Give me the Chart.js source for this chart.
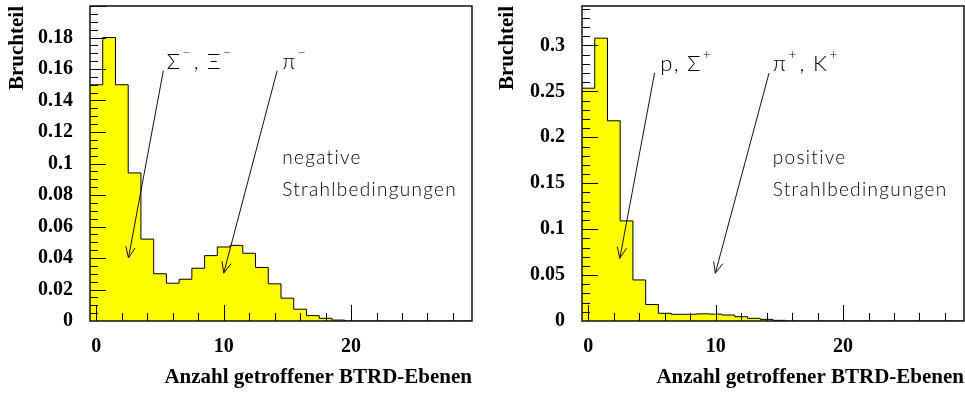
<!DOCTYPE html>
<html>
<head>
<meta charset="utf-8">
<script src="https://cdn.jsdelivr.net/npm/chart.js@4.4.0/dist/chart.umd.min.js"></script>
<style>
  html, body { margin: 0; padding: 0; background: #fff; }
  #wrap { display: flex; width: 965px; height: 394px; }
  #left { position: relative; width: 490px; height: 394px; }
  #right { position: relative; width: 475px; height: 394px; }
</style>
</head>
<body>
<div id="wrap">
  <div id="left"><canvas id="negChart"></canvas></div>
  <div id="right"><canvas id="posChart"></canvas></div>
</div>
<script>
// fraction per number of hit BTRD layers, bins 0..29
const negValues = [0.150, 0.180, 0.150, 0.094, 0.052, 0.030, 0.024, 0.0265, 0.0335, 0.0415,
                   0.047, 0.048, 0.043, 0.034, 0.0236, 0.0145, 0.0075, 0.0034, 0.0017, 0.0006,
                   0, 0, 0, 0, 0, 0, 0, 0, 0, 0];
const posValues = [0.2535, 0.308, 0.218, 0.109, 0.0447, 0.018, 0.0084, 0.0073, 0.0073, 0.0078,
                   0.0075, 0.0065, 0.0047, 0.0029, 0.0018, 0.0007, 0, 0, 0, 0,
                   0, 0, 0, 0, 0, 0, 0, 0, 0, 0];
const xTicks = [0, 10, 20];
const negYTicks = [0, 0.02, 0.04, 0.06, 0.08, 0.1, 0.12, 0.14, 0.16, 0.18];
const posYTicks = [0, 0.05, 0.1, 0.15, 0.2, 0.25, 0.3];

const serif = "'Liberation Serif', 'Times New Roman', serif";

function histPoints(values) {
  const pts = values.map((v, i) => ({ x: i - 0.5, y: v }));
  pts.push({ x: values.length - 0.5, y: values[values.length - 1] });
  return pts;
}

// frame, inward tick marks, arrows and labels
const histDecor = {
  id: 'histDecor',
  afterDatasetsDraw(chart, args, opts) {
    const { ctx, chartArea: a, scales: { x, y } } = chart;
    ctx.save();
    ctx.strokeStyle = '#000';
    ctx.lineWidth = 1;
    ctx.beginPath();
    for (let i = 0; ; i++) {
      const v = i * opts.xMinor;
      if (v > x.max) break;
      const px = Math.round(x.getPixelForValue(v)) + 0.5;
      const len = v % opts.xMajor === 0 ? 16 : 8;
      ctx.moveTo(px, a.bottom);
      ctx.lineTo(px, a.bottom - len);
    }
    for (let i = 1; ; i++) {
      const v = i * opts.yMinor;
      if (v > y.max) break;
      const py = Math.round(y.getPixelForValue(v)) + 0.5;
      const r = v / opts.yMajor;
      const len = Math.abs(r - Math.round(r)) < 1e-6 ? 16 : 8;
      ctx.moveTo(a.left, py);
      ctx.lineTo(a.left + len, py);
    }
    ctx.stroke();

    ctx.lineWidth = 1.5;
    ctx.strokeStyle = '#111';
    ctx.strokeRect(a.left, a.top, a.right - a.left, a.bottom - a.top);

    // arrows
    ctx.lineWidth = 1;
    ctx.strokeStyle = '#111';
    opts.arrows.forEach(ar => {
      const fx = x.getPixelForValue(ar.from[0]), fy = y.getPixelForValue(ar.from[1]);
      const tx = x.getPixelForValue(ar.to[0]), ty = y.getPixelForValue(ar.to[1]);
      const ang = Math.atan2(ty - fy, tx - fx);
      ctx.beginPath();
      ctx.moveTo(fx, fy);
      ctx.lineTo(tx, ty);
      ctx.moveTo(tx - 12 * Math.cos(ang - 0.4), ty - 12 * Math.sin(ang - 0.4));
      ctx.lineTo(tx, ty);
      ctx.lineTo(tx - 12 * Math.cos(ang + 0.4), ty - 12 * Math.sin(ang + 0.4));
      ctx.stroke();
    });

    // labels, "^c" = superscript character
    ctx.fillStyle = '#000';
    ctx.textBaseline = 'alphabetic';
    ctx.letterSpacing = '1.3px';
    opts.texts.forEach(t => {
      let px = x.getPixelForValue(t.at[0]);
      const py = y.getPixelForValue(t.at[1]);
      const parts = t.text.split(/(\^.)/);
      parts.forEach(p => {
        if (!p) return;
        if (p[0] === '^') {
          ctx.font = '300 14px Lato';
          ctx.fillText(p[1], px + 1, py - 12);
          px += ctx.measureText(p[1]).width + 3;
        } else {
          ctx.font = '300 ' + (t.size || 18) + 'px Lato';
          ctx.fillText(p, px, py);
          px += ctx.measureText(p).width;
        }
      });
    });
    ctx.restore();
  }
};

function makeChart(id, values, yMax, yTicks, yWidth, padRight, decor) {
  return new Chart(document.getElementById(id), {
    type: 'line',
    data: {
      datasets: [{
        data: histPoints(values),
        stepped: true,
        fill: 'origin',
        backgroundColor: '#ffff00',
        borderColor: '#000',
        borderWidth: 1,
        pointRadius: 0
      }]
    },
    plugins: [histDecor],
    options: {
      responsive: true,
      maintainAspectRatio: false,
      animation: false,
      layout: { padding: { left: 0, top: 6, right: padRight, bottom: 0 } },
      plugins: {
        legend: { display: false },
        tooltip: { enabled: false },
        histDecor: decor
      },
      scales: {
        x: {
          type: 'linear',
          min: -0.5,
          max: 29.5,
          afterBuildTicks: s => { s.ticks = xTicks.map(v => ({ value: v })); },
          afterFit: s => { s.height = 73; s.paddingLeft = 0; s.paddingRight = 0; },
          grid: { display: false, drawTicks: false },
          border: { display: false },
          ticks: {
            padding: 14, maxRotation: 0, color: '#000',
            font: { family: serif, size: 20, weight: 'bold' },
            callback: v => String(v)
          },
          title: {
            display: true, text: 'Anzahl getroffener BTRD-Ebenen', align: 'end', color: '#000',
            font: { family: serif, size: 21, weight: 'bold' },
            padding: { top: 4, bottom: 4 }
          }
        },
        y: {
          min: 0,
          max: yMax,
          afterBuildTicks: s => { s.ticks = yTicks.map(v => ({ value: v })); },
          afterFit: s => { s.width = yWidth; s.paddingTop = 0; s.paddingBottom = 0; },
          grid: { display: false, drawTicks: false },
          border: { display: false },
          ticks: {
            padding: 17, color: '#000',
            font: { family: serif, size: 20, weight: 'bold' },
            callback: v => String(+v.toFixed(3))
          },
          title: {
            display: true, text: 'Bruchteil', align: 'end', color: '#000',
            font: { family: serif, size: 21, weight: 'bold' },
            padding: { top: 5, bottom: 0 }
          }
        }
      }
    }
  });
}

makeChart('negChart', negValues, 0.2, negYTicks, 90, 18, {
  xMinor: 2, xMajor: 10, yMinor: 0.005, yMajor: 0.02,
  arrows: [
    { from: [5.26, 0.159], to: [2.52, 0.040] },
    { from: [14.2, 0.159], to: [10.0, 0.0304] }
  ],
  texts: [
    { at: [5.52, 0.160], text: 'Σ^−, Ξ^−', size: 22 },
    { at: [14.6, 0.160], text: 'π^−', size: 22 },
    { at: [14.6, 0.100], text: 'negative', size: 19 },
    { at: [14.6, 0.0796], text: 'Strahlbedingungen', size: 19 }
  ]
});

makeChart('posChart', posValues, 0.343, posYTicks, 92, 1, {
  xMinor: 2, xMajor: 10, yMinor: 0.01, yMajor: 0.05,
  arrows: [
    { from: [5.2, 0.27], to: [2.47, 0.0683] },
    { from: [14.19, 0.27], to: [9.97, 0.052] }
  ],
  texts: [
    { at: [5.65, 0.2727], text: 'p, Σ^+', size: 22 },
    { at: [14.48, 0.2727], text: 'π^+, K^+', size: 22 },
    { at: [14.48, 0.171], text: 'positive', size: 19 },
    { at: [14.48, 0.136], text: 'Strahlbedingungen', size: 19 }
  ]
});
</script>
</body>
</html>
